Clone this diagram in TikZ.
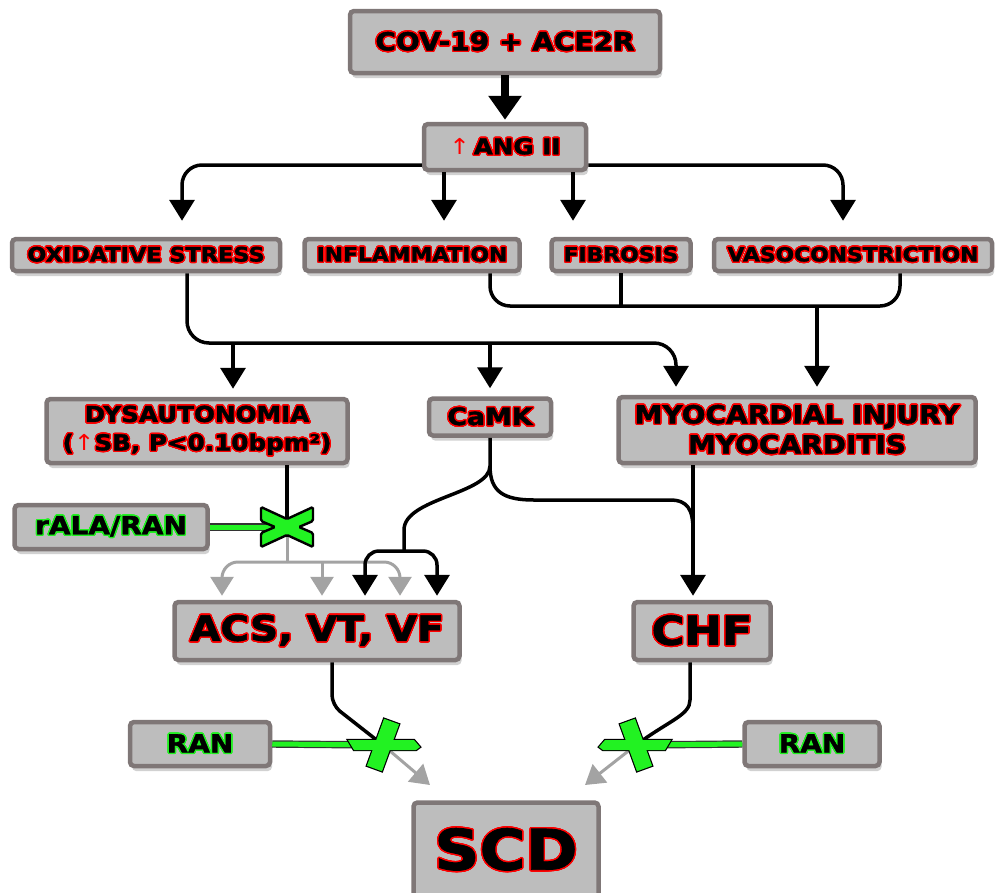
\documentclass[tikz,border=0pt]{standalone}
\usepackage{fontspec}
\setmainfont{DejaVu Sans}[FakeStretch=1.12, BoldFeatures={FakeBold=1.5}]
\usepackage[copies]{contour}
\contourlength{1.4pt}
\contournumber{24}
\usetikzlibrary{arrows.meta,positioning,calc,shadows}

\definecolor{boxfill}{HTML}{BDBDBD}
\definecolor{boxedge}{HTML}{7F7777}
\definecolor{xgreen}{HTML}{22F222}
\definecolor{fadegray}{HTML}{A3A3A3}

\newcommand{\rtx}[1]{\contour{red}{#1}}
\newcommand{\gtx}[1]{\contour{xgreen}{#1}}
\newcommand{\upr}{\textcolor{red}{\mdseries ↑}}
\newcommand{\fsz}[1]{\fontsize{#1}{1.2\dimexpr#1pt\relax}\selectfont}

\tikzset{
  box/.style={draw=boxedge, fill=boxfill, line width=4.5pt, rounded corners=4pt,
    inner sep=0pt, align=center,
    drop shadow={shadow xshift=2pt, shadow yshift=-5pt, opacity=.18, fill=black}},
  conn/.style={line width=3.5pt},
  tip/.style={-{Triangle[width=25pt,length=21pt]}},
  fade/.style={line width=3pt, draw=fadegray},
  fadetip/.style={-{Triangle[width=23pt,length=19pt]}, fadegray},
  block/.style={line width=1.2pt, draw=black!80, double=xgreen, double distance=5pt},
  % bow-tie cross on the dysautonomia line
  blocker/.pic={
    \draw[line width=2.4pt, fill=xgreen, rounded corners=1.5pt]
      (-26,-20) -- (0,-8) -- (26,-20) -- (26,-6) -- (12,0) -- (26,6) -- (26,20)
      -- (0,8) -- (-26,20) -- (-26,6) -- (-12,0) -- (-26,-6) -- cycle;
  },
  % bar cross on the lines into SCD
  pics/cutbar/.style={code={
    \draw[line width=2.4pt] (-35,-5) -- (31,-5) -- (37,2) -- (33,5) -- (-29,5) -- cycle;
    \draw[line width=2.4pt, rotate=#1] (-25,-8) rectangle (25,8);
    \fill[xgreen] (-35,-5) -- (31,-5) -- (37,2) -- (33,5) -- (-29,5) -- cycle;
    \fill[xgreen, rotate=#1] (-25,-8) rectangle (25,8);
  }}
}

\begin{document}
\begin{tikzpicture}[x=1pt,y=-1pt]
  \useasboundingbox (0,0) rectangle (995,892);

  % boxes
  \node[box, font=\bfseries\fsz{25}, minimum width=310, minimum height=62] (cov) at (505,42) {\rtx{COV-19 + ACE2R}};
  \node[box, font=\bfseries\fsz{22}, minimum width=162, minimum height=46] (ang) at (505,147) {\upr\,\rtx{ANG II}};
  \node[box, font=\bfseries\fsz{20}, minimum width=268, minimum height=32] (ox) at (146,255) {\rtx{OXIDATIVE STRESS}};
  \node[box, font=\bfseries\fsz{19.5}, minimum width=215, minimum height=32] (inf) at (412,255) {\rtx{INFLAMMATION}};
  \node[box, font=\bfseries\fsz{19.5}, minimum width=139, minimum height=32] (fib) at (621,255) {\rtx{FIBROSIS}};
  \node[box, font=\bfseries\fsz{19.5}, minimum width=278, minimum height=32] (vaso) at (853,255) {\rtx{VASOCONSTRICTION}};
  \node[box, font=\bfseries\fsz{22}, minimum width=301, minimum height=64] (dys) at (197,431)
    {\rtx{DYSAUTONOMIA}\\[2pt]\rtx{(}\upr\rtx{SB, P<0.10bpm²)}};
  \node[box, font=\bfseries\fsz{24}, minimum width=122, minimum height=37] (camk) at (490,417) {\rtx{CaMK}};
  \node[box, font=\bfseries\fsz{25}, minimum width=357, minimum height=66] (myo) at (797,430)
    {\rtx{MYOCARDIAL INJURY}\\\rtx{MYOCARDITIS}};
  \node[box, font=\bfseries\fsz{25}, minimum width=193, minimum height=44] (rala) at (111,527) {\gtx{rALA/RAN}};
  \node[box, font=\bfseries\fsz{35}, minimum width=285, minimum height=58] (acs) at (317,631) {\rtx{ACS, VT, VF}};
  \node[box, font=\bfseries\fsz{40}, minimum width=137, minimum height=58] (chf) at (702,631) {\rtx{CHF}};
  \node[box, font=\bfseries\fsz{25}, minimum width=140, minimum height=44] (ranl) at (200,744) {\gtx{RAN}};
  \node[box, font=\bfseries\fsz{25}, minimum width=135, minimum height=44] (ranr) at (812,744) {\gtx{RAN}};
  \node[box, font=\bfseries\fsz{56}, minimum width=185, minimum height=95] (scd) at (506,850) {\rtx{SCD}};

  % bus points and blockers
  \coordinate (obus) at (430,343);
  \coordinate (ibus) at (620,306);
  \coordinate (fork) at (490,466);
  \coordinate (xa) at (287,527);
  \coordinate (gbus) at (287,562);
  \coordinate (xb) at (383,745);
  \coordinate (xc) at (636,745);
  \coordinate (sl) at (430,785);
  \coordinate (sr) at (585,785);

  % top
  \draw[line width=8pt, -{Triangle[width=32pt,length=24pt]}, shorten >=2pt] (cov) -- (ang);
  \draw[conn, tip, rounded corners=20pt, shorten >=16pt] ([yshift=-18pt]ang.west) -| ([xshift=36pt]ox.north);
  \draw[conn, tip, rounded corners=20pt, shorten >=16pt] ([yshift=-18pt]ang.east) -| ([xshift=-10pt]vaso.north);
  \draw[conn, tip, shorten >=16pt] ([xshift=-61pt]ang.south) -- ([xshift=32pt]inf.north);
  \draw[conn, tip, shorten >=16pt] ([xshift=68pt]ang.south) -- ([xshift=-48pt]fib.north);

  % second level
  \draw[conn, tip, rounded corners=22pt, shorten >=8pt] ([xshift=41pt]ox.south) |- (obus) -| ([xshift=-121pt]myo.north);
  \draw[conn, tip, shorten >=8pt] ([xshift=36pt]dys.north |- obus) -- ([xshift=36pt]dys.north);
  \draw[conn, tip, shorten >=8pt] (camk.north |- obus) -- (camk.north);
  \draw[conn, rounded corners=20pt] ([xshift=78pt]inf.south) |- (ibus) -| ([xshift=47pt]vaso.south);
  \draw[conn] (fib.south) -- (fib.south |- ibus);
  \draw[conn, tip, shorten >=8pt] ([xshift=20pt]myo.north |- ibus) -- ([xshift=20pt]myo.north);

  % dysautonomia branch
  \draw[conn] ([xshift=90pt]dys.south) -- (xa);
  \draw[fade] (xa) -- (gbus);
  \draw[fade, fadetip, rounded corners=16pt, shorten >=4pt] (gbus) -| ([xshift=-95pt]acs.north);
  \draw[fade, fadetip, rounded corners=16pt, shorten >=4pt] (gbus) -| ([xshift=83pt]acs.north);
  \draw[fade, fadetip, shorten >=4pt] ([xshift=5pt]acs.north |- gbus) -- ([xshift=5pt]acs.north);
  \draw[block] (rala.east) -- (xa);
  \pic at (xa) {blocker};

  % CaMK branch
  \draw[conn] (camk.south) -- (fork)
    .. controls (490,494) and (404,498) .. (404,530) -- (404,551);
  \draw[conn, tip, rounded corners=14pt, shorten >=4pt] (404,551) -| ([xshift=48pt]acs.north);
  \draw[conn, tip, rounded corners=14pt, shorten >=4pt] (404,551) -| ([xshift=120pt]acs.north);
  \draw[conn] (fork) .. controls (490,492) and (504,500) .. (534,500) -- (670,500)
    .. controls (688,500) and (693,510) .. (693,530);
  \draw[conn, tip, shorten >=4pt] ([xshift=-104pt]myo.south) -- ([xshift=-9pt]chf.north);

  % to SCD
  \draw[conn, rounded corners=10pt] ([xshift=15pt]acs.south) -- (332,705) -- (xb);
  \draw[fade, fadetip] (xb) -- (sl);
  \draw[conn] ([xshift=-12pt]chf.south) -- (690,700) .. controls (690,715) and (670,720) .. (xc);
  \draw[fade, fadetip] (xc) -- (sr);
  \draw[block] (ranl.east) -- (xb);
  \draw[block] (ranr.west) -- (xc);
  \pic at (xb) {cutbar=70};
  \pic[xscale=-1] at (xc) {cutbar=70};
\end{tikzpicture}
\end{document}
